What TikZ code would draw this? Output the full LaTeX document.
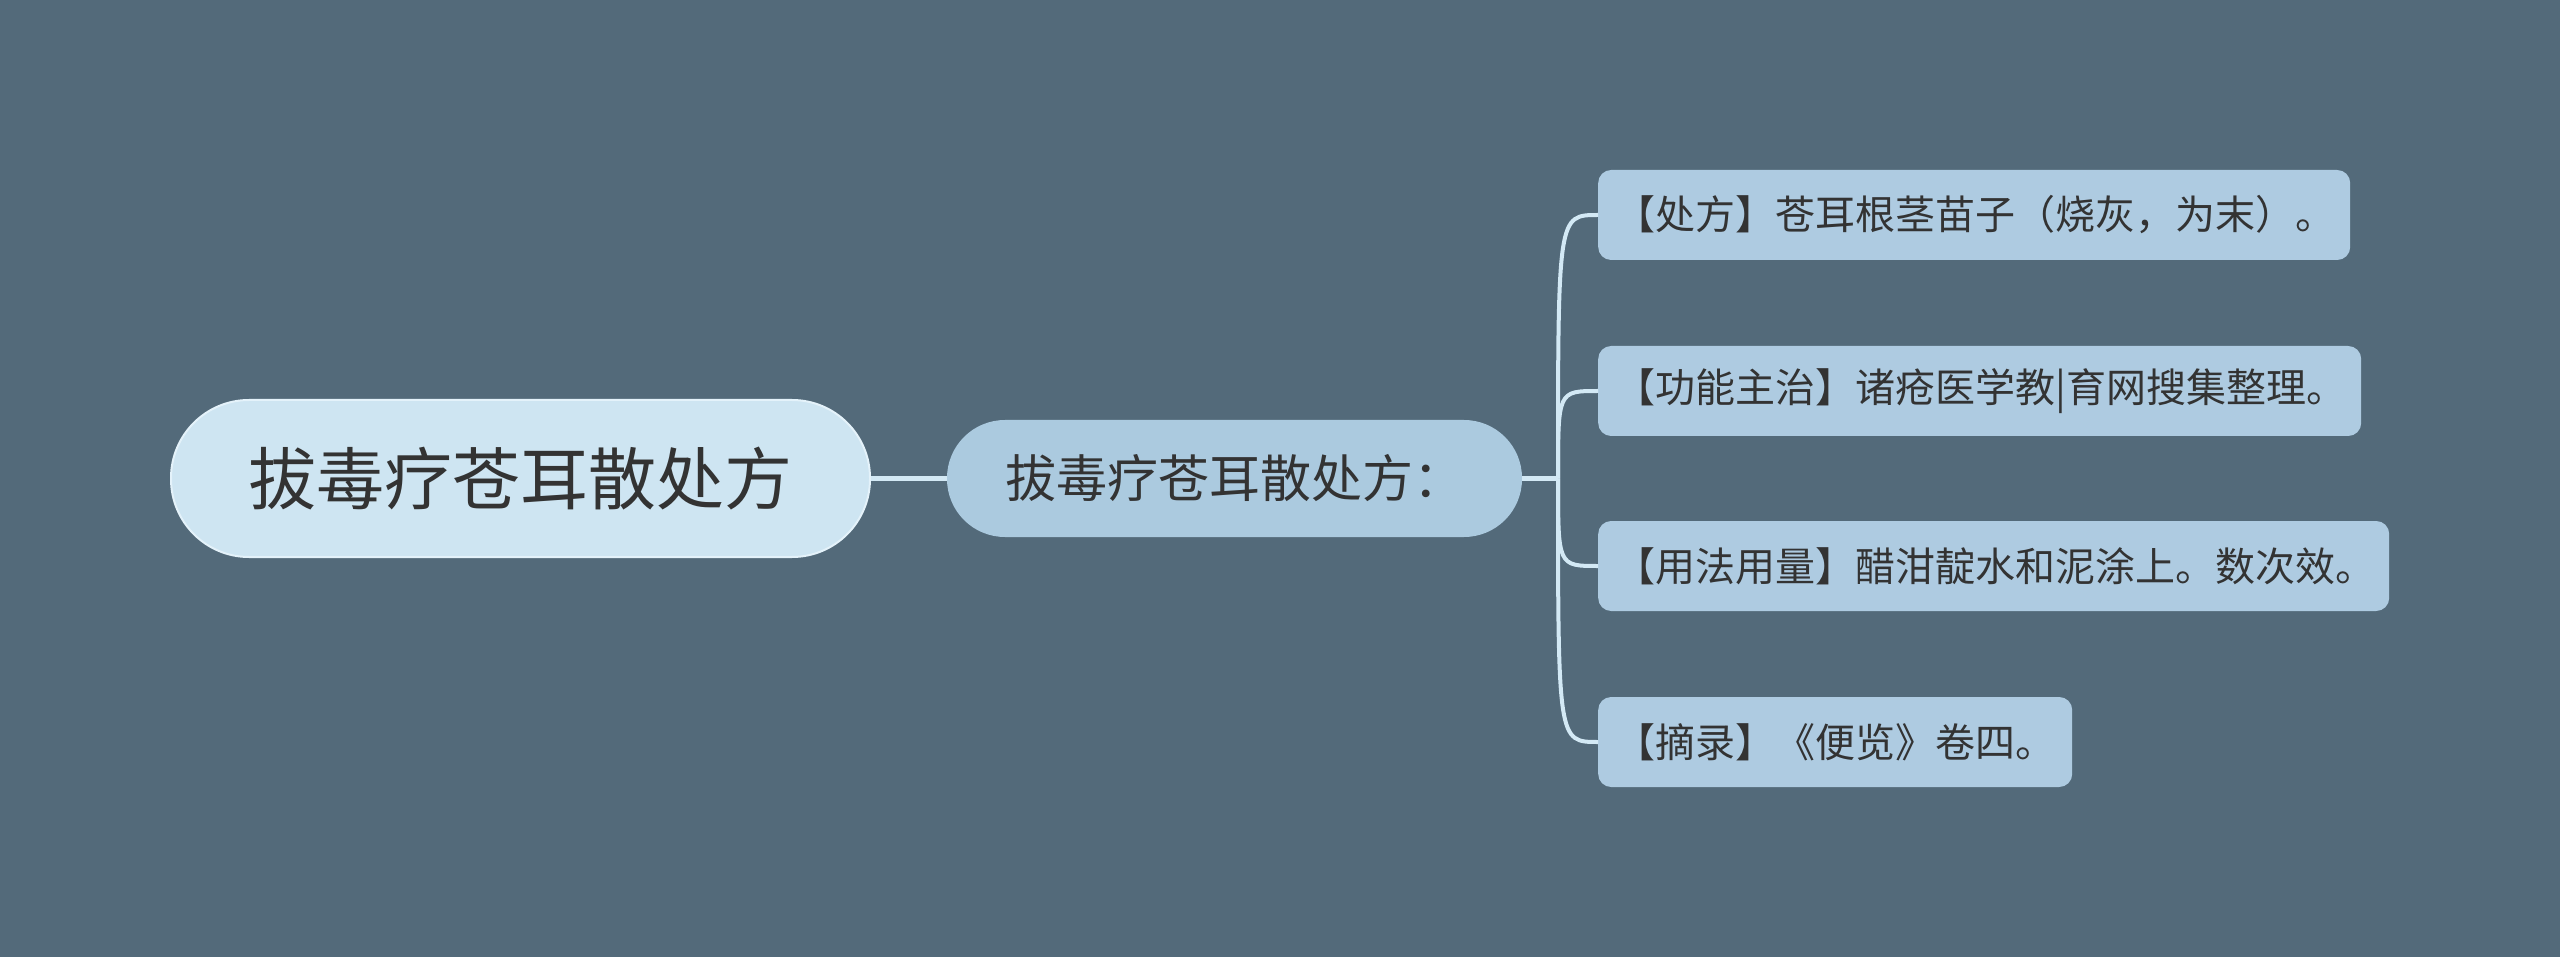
\documentclass[tikz,border=0pt]{standalone}
\usepackage{fontspec}
\setmainfont{Noto Sans CJK SC}
\definecolor{bgc}{HTML}{536A7A}
\definecolor{rootfill}{HTML}{CEE5F2}
\definecolor{rootdraw}{HTML}{E4F2FA}
\definecolor{midfill}{HTML}{ABCADF}
\definecolor{leaffill}{HTML}{AECBE1}
\definecolor{connc}{HTML}{D3E9F5}
\definecolor{txt}{HTML}{333333}
\tikzset{
  rootbox/.style={draw=rootdraw, line width=2pt, fill=rootfill, rounded corners=78pt, minimum width=699pt, minimum height=157pt, inner sep=0pt, text=txt, font=\fontsize{68pt}{80pt}\selectfont},
  midbox/.style={fill=midfill, rounded corners=58pt, minimum width=575pt, minimum height=117pt, inner sep=0pt, text=txt, font=\fontsize{51pt}{60pt}\selectfont},
  leafbox/.style={fill=leaffill, rounded corners=13pt, minimum height=90pt, inner xsep=17pt, inner ysep=0pt, anchor=west, text=txt, font=\fontsize{40pt}{48pt}\selectfont},
  conn/.style={draw=connc, line width=4.5pt},
}
\begin{document}
\begin{tikzpicture}[x=1pt,y=-1pt]
\fill[bgc] (0,0) rectangle (2560,957);
\useasboundingbox (0,0) rectangle (2560,957);
\node[rootbox] (root) at (520.5,478.5) {拔毒疗苍耳散处方};
\node[midbox] (mid) at (1234.5,478.5) {拔毒疗苍耳散处方：};
\node[leafbox] (l1) at (1598,215) {\makebox[718pt][l]{【处方】苍耳根茎苗子（烧灰，为末）。}};
\node[leafbox] (l2) at (1598,391) {\makebox[729pt][l]{【功能主治】诸疮医学教|育网搜集整理。}};
\node[leafbox] (l3) at (1598,566) {\makebox[757pt][l]{【用法用量】醋泔靛水和泥涂上。数次效。}};
\node[leafbox] (l4) at (1598,742) {\makebox[440pt][l]{【摘录】《便览》卷四。}};
\coordinate (J) at (1558,478.5);
\draw[conn] (root.east) -- (mid.west);
\draw[conn] (mid.east) -- (J);
\foreach \l in {l1,l2,l3,l4} {
  \draw[conn, line width=4pt] (J) .. controls (J |- \l.west) .. (\l.west);
}
\end{tikzpicture}
\end{document}
